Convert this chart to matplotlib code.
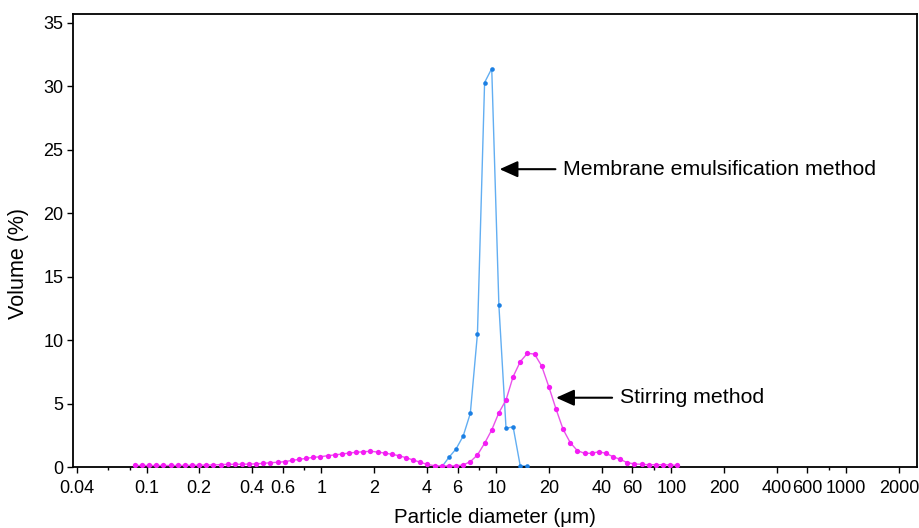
import matplotlib
matplotlib.use("Agg")
import matplotlib.pyplot as plt
from matplotlib.ticker import FixedLocator, FixedFormatter, NullFormatter
from matplotlib.patches import ArrowStyle

plt.rcParams['font.family'] = ['Liberation Sans', 'DejaVu Sans']

# size bins (um), shared by both curves
diameter = [
    0.0858, 0.0943, 0.1036, 0.1138, 0.1250, 0.1373, 0.1508, 0.1657, 0.1820, 0.1999,
    0.2196, 0.2412, 0.2650, 0.2911, 0.3197, 0.3512, 0.3858, 0.4238, 0.4656, 0.5114,
    0.5618, 0.6171, 0.6779, 0.7447, 0.8180, 0.8986, 0.9872, 1.084, 1.191, 1.309,
    1.438, 1.579, 1.735, 1.906, 2.093, 2.300, 2.526, 2.775, 3.048, 3.348,
    3.678, 4.040, 4.438, 4.875, 5.356, 5.883, 6.463, 7.099, 7.798, 8.567,
    9.411, 10.34, 11.36, 12.47, 13.70, 15.05, 16.53, 18.16, 19.95, 21.92,
    24.08, 26.45, 29.05, 31.92, 35.06, 38.51, 42.31, 46.47, 51.05, 56.08,
    61.60, 67.67, 74.34, 81.66, 89.70, 98.54, 108.2,
]

stirring = [
    0.12, 0.12, 0.12, 0.12, 0.12, 0.12, 0.12, 0.13, 0.13, 0.14,
    0.15, 0.16, 0.19, 0.21, 0.21, 0.22, 0.23, 0.25, 0.29, 0.34,
    0.37, 0.42, 0.52, 0.60, 0.68, 0.76, 0.81, 0.89, 0.95, 1.02,
    1.10, 1.16, 1.20, 1.24, 1.18, 1.10, 1.00, 0.89, 0.73, 0.55,
    0.37, 0.20, 0.10, 0.08, 0.08, 0.09, 0.16, 0.42, 0.95, 1.87,
    2.92, 4.28, 5.28, 7.12, 8.30, 8.96, 8.90, 7.96, 6.33, 4.58,
    2.97, 1.92, 1.29, 1.08, 1.08, 1.20, 1.08, 0.81, 0.60, 0.34,
    0.24, 0.21, 0.18, 0.18, 0.18, 0.16, 0.13,
]

membrane_d = [4.875, 5.356, 5.883, 6.463, 7.099, 7.798, 8.567, 9.411,
              10.34, 11.36, 12.47, 13.70, 15.05]
membrane = [0.0, 0.76, 1.42, 2.44, 4.23, 10.5, 30.3, 31.4,
            12.75, 3.05, 3.17, 0.08, 0.08]

xticks_major = [0.04, 0.1, 0.2, 0.4, 0.6, 1, 2, 4, 6, 10, 20, 40, 60,
                100, 200, 400, 600, 1000, 2000]
xtick_labels = ['0.04', '0.1', '0.2', '0.4', '0.6', '1', '2', '4', '6', '10',
                '20', '40', '60', '100', '200', '400', '600', '1000', '2000']
xticks_minor = [0.06, 0.08, 0.8, 8, 80, 800]
yticks = [0, 5, 10, 15, 20, 25, 30, 35]

fig = plt.figure(figsize=(9.2, 5.28), dpi=100)
ax = fig.add_axes([73 / 920, 1 - 467 / 528, 844 / 920, 453 / 528])

ax.plot(membrane_d, membrane, '-', color='#62aef2', lw=1.0, zorder=2)
ax.plot(membrane_d[1:], membrane[1:], 'o', color='#1b7fe3', ms=3.3,
        mec='none', zorder=3)
ax.plot(diameter, stirring, '-', color='#ea52ea', lw=1.0, zorder=4)
ax.plot(diameter, stirring, 'o', color='#f41cf4', ms=3.8, mec='none', zorder=5)

ax.set_xscale('log')
ax.set_xlim(0.038, 2540)
ax.set_ylim(0, 35.7)

ax.xaxis.set_major_locator(FixedLocator(xticks_major))
ax.xaxis.set_major_formatter(FixedFormatter(xtick_labels))
ax.xaxis.set_minor_locator(FixedLocator(xticks_minor))
ax.xaxis.set_minor_formatter(NullFormatter())
ax.set_yticks(yticks)

ax.tick_params(axis='both', which='major', direction='out', length=4.5,
               width=1.0, labelsize=13, color='black')
ax.tick_params(axis='x', which='major', pad=5)
ax.tick_params(axis='y', which='major', pad=2.5)
ax.tick_params(axis='x', which='minor', direction='out', length=2.5, width=1.0)

for sp in ax.spines.values():
    sp.set_linewidth(1.3)
    sp.set_color('black')

ax.set_xlabel('Particle diameter (μm)', fontsize=14.8, labelpad=8)
ax.set_ylabel('Volume (%)', fontsize=15.5)
ax.yaxis.set_label_coords(-0.052, 0.45)

head = ArrowStyle('-|>', head_length=1.0, head_width=0.45)
ax.annotate('', xy=(10.44, 23.47), xytext=(21.76, 23.47),
            arrowprops=dict(arrowstyle=head, color='black', lw=1.5,
                            mutation_scale=11, shrinkA=0, shrinkB=0))
ax.text(24.09, 23.47, 'Membrane emulsification method', fontsize=15.3,
        ha='left', va='center')

ax.annotate('', xy=(21.96, 5.46), xytext=(45.9, 5.46),
            arrowprops=dict(arrowstyle=head, color='black', lw=1.5,
                            mutation_scale=11, shrinkA=0, shrinkB=0))
ax.text(50.6, 5.46, 'Stirring method', fontsize=15.3, ha='left', va='center')

fig.savefig('out.png', dpi=100)
